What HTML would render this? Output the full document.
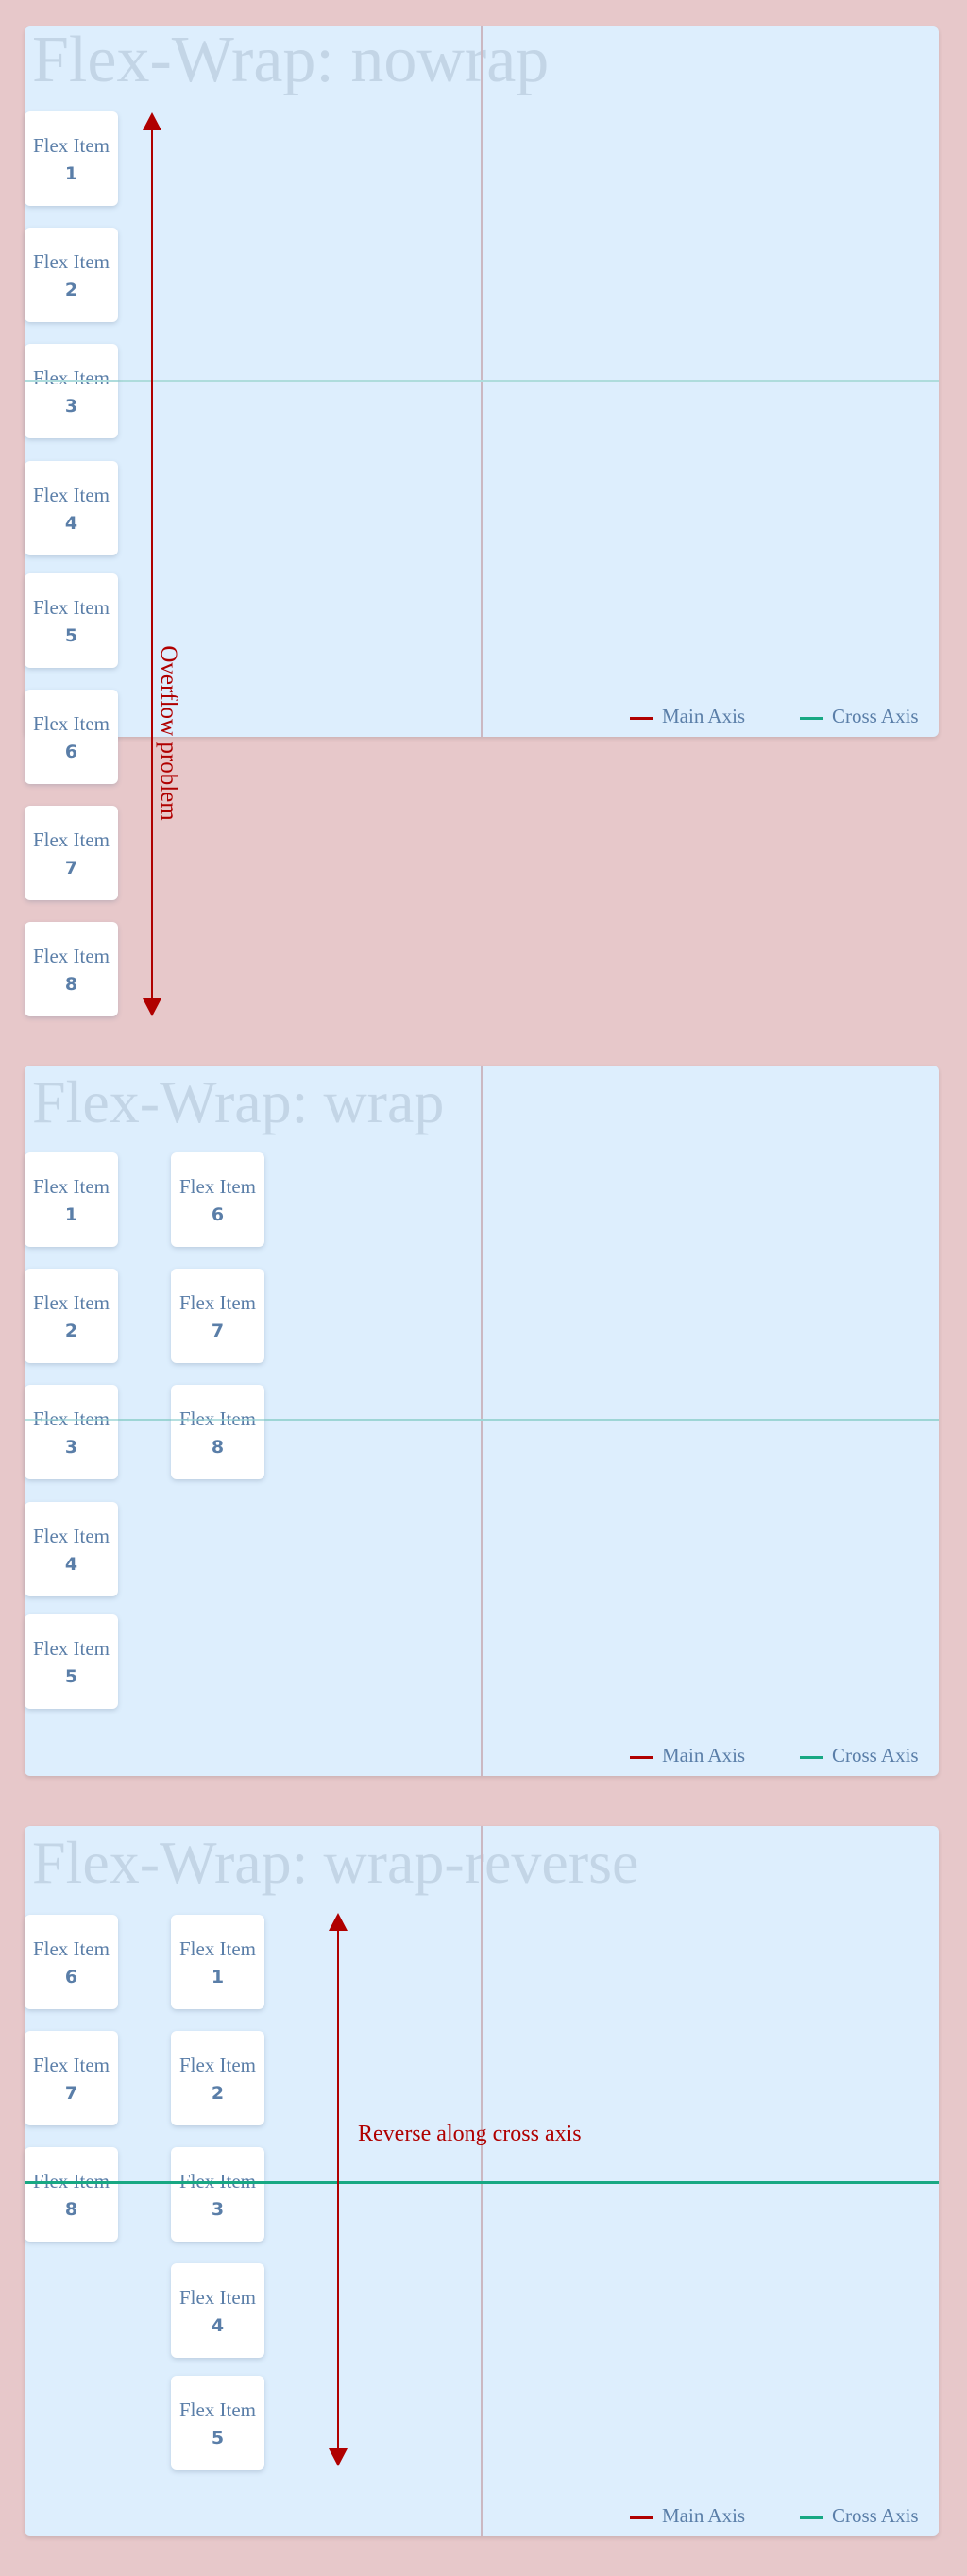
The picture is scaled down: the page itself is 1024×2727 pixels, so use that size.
<!DOCTYPE html>
<html><head><meta charset="utf-8"><style>
*{margin:0;padding:0;box-sizing:border-box}
body{width:1024px;height:2727px;background:#e7c8ca;position:relative;overflow:hidden;font-family:"Liberation Serif",serif}
.panel{position:absolute;left:26px;width:968px;height:752px;background:#ddeefd;border-radius:6px;box-shadow:0 2px 4px rgba(0,0,0,0.12)}
.title{position:absolute;left:8px;top:-4px;font-size:70px;color:#c3d5e6;white-space:nowrap;line-height:80px}
.vl{position:absolute;left:483px;top:0;width:2px;height:100%;background:#cbb8c2}
.cl{position:absolute;left:0;width:100%;height:2px;background:#aedcdc}
.item{position:absolute;width:99px;height:100px;background:#fff;border-radius:6px;box-shadow:0 2px 5px rgba(90,110,140,0.25);text-align:center;color:#5a7ea8}
.item .t{position:absolute;left:0;right:0;top:23px;font-size:21px;line-height:26px;white-space:nowrap}
.item .n{position:absolute;left:0;right:0;top:53px;font-family:"DejaVu Sans","Liberation Sans",sans-serif;font-weight:bold;font-size:19px;line-height:26px}
.leg{position:absolute;bottom:10px;font-size:21px;color:#5a7ea8;white-space:nowrap;line-height:24px}
.leg i{display:inline-block;width:24px;height:3px;vertical-align:middle;margin-right:10px}
</style></head><body>

<div class="panel" style="top:28px">
  <div class="title">Flex-Wrap: nowrap</div>
  <div class="vl"></div>
  <div class="cl" style="top:374px"></div>
  <div class="leg" style="left:641px"><i style="background:#b00000"></i>Main Axis</div>
  <div class="leg" style="left:821px"><i style="background:#18a883"></i>Cross Axis</div>
</div>

<div class="panel" style="top:1128px">
  <div class="title" style="font-size:64px;top:-1px">Flex-Wrap: wrap</div>
  <div class="vl"></div>
  <div class="cl" style="top:374px"></div>
  <div class="leg" style="left:641px"><i style="background:#b00000"></i>Main Axis</div>
  <div class="leg" style="left:821px"><i style="background:#18a883"></i>Cross Axis</div>
</div>

<div class="panel" style="top:1933px">
  <div class="title" style="font-size:64px;top:-1px">Flex-Wrap: wrap-reverse</div>
  <div class="vl"></div>
  <div class="leg" style="left:641px"><i style="background:#b00000"></i>Main Axis</div>
  <div class="leg" style="left:821px"><i style="background:#18a883"></i>Cross Axis</div>
</div>

<div class="item" style="left:26px;top:118px"><div class="t">Flex Item</div><div class="n">1</div></div>
<div class="item" style="left:26px;top:241px"><div class="t">Flex Item</div><div class="n">2</div></div>
<div class="item" style="left:26px;top:364px"><div class="t">Flex Item</div><div class="n">3</div></div>
<div class="item" style="left:26px;top:488px"><div class="t">Flex Item</div><div class="n">4</div></div>
<div class="item" style="left:26px;top:607px"><div class="t">Flex Item</div><div class="n">5</div></div>
<div class="item" style="left:26px;top:730px"><div class="t">Flex Item</div><div class="n">6</div></div>
<div class="item" style="left:26px;top:853px"><div class="t">Flex Item</div><div class="n">7</div></div>
<div class="item" style="left:26px;top:976px"><div class="t">Flex Item</div><div class="n">8</div></div>
<div style="position:absolute;left:26px;top:402px;width:99px;height:2px;background:#aedcdc"></div>

<div class="item" style="left:26px;top:1220px"><div class="t">Flex Item</div><div class="n">1</div></div>
<div class="item" style="left:26px;top:1343px"><div class="t">Flex Item</div><div class="n">2</div></div>
<div class="item" style="left:26px;top:1466px"><div class="t">Flex Item</div><div class="n">3</div></div>
<div class="item" style="left:26px;top:1590px"><div class="t">Flex Item</div><div class="n">4</div></div>
<div class="item" style="left:26px;top:1709px"><div class="t">Flex Item</div><div class="n">5</div></div>
<div class="item" style="left:181px;top:1220px"><div class="t">Flex Item</div><div class="n">6</div></div>
<div class="item" style="left:181px;top:1343px"><div class="t">Flex Item</div><div class="n">7</div></div>
<div class="item" style="left:181px;top:1466px"><div class="t">Flex Item</div><div class="n">8</div></div>
<div style="position:absolute;left:26px;top:1502px;width:968px;height:2px;background:rgba(150,210,210,0.7)"></div>

<div class="item" style="left:26px;top:2027px"><div class="t">Flex Item</div><div class="n">6</div></div>
<div class="item" style="left:26px;top:2150px"><div class="t">Flex Item</div><div class="n">7</div></div>
<div class="item" style="left:26px;top:2273px"><div class="t">Flex Item</div><div class="n">8</div></div>
<div class="item" style="left:181px;top:2027px"><div class="t">Flex Item</div><div class="n">1</div></div>
<div class="item" style="left:181px;top:2150px"><div class="t">Flex Item</div><div class="n">2</div></div>
<div class="item" style="left:181px;top:2273px"><div class="t">Flex Item</div><div class="n">3</div></div>
<div class="item" style="left:181px;top:2396px"><div class="t">Flex Item</div><div class="n">4</div></div>
<div class="item" style="left:181px;top:2515px"><div class="t">Flex Item</div><div class="n">5</div></div>
<div style="position:absolute;left:26px;top:2309px;width:968px;height:3px;background:#18a883"></div>

<svg style="position:absolute;left:0;top:0" width="1024" height="2727">
  <line x1="161" y1="136" x2="161" y2="1060" stroke="#b00000" stroke-width="2"/>
  <polygon points="161,119 151,138 171,138" fill="#b00000"/>
  <polygon points="161,1076 151,1057 171,1057" fill="#b00000"/>
  <line x1="358" y1="2042" x2="358" y2="2594" stroke="#b00000" stroke-width="2"/>
  <polygon points="358,2025 348,2044 368,2044" fill="#b00000"/>
  <polygon points="358,2611 348,2592 368,2592" fill="#b00000"/>
</svg>

<div style="position:absolute;left:78px;top:762px;width:200px;height:28px;transform:rotate(90deg);font-size:25px;line-height:28px;color:#b00000;text-align:center;white-space:nowrap">Overflow problem</div>
<div style="position:absolute;left:379px;top:2244px;font-size:24px;line-height:30px;color:#b00000;white-space:nowrap">Reverse along cross axis</div>

</body></html>
